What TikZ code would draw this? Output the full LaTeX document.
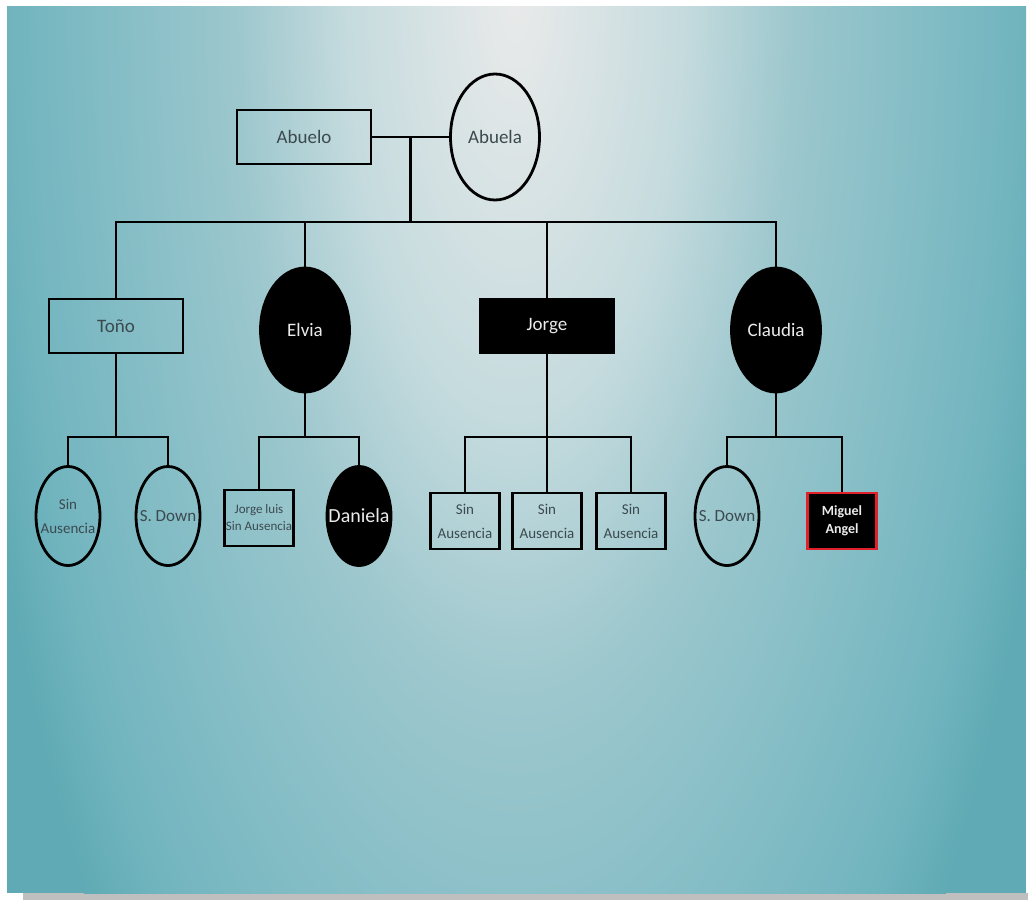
\documentclass[tikz,border=0pt]{standalone}
\usepackage{fontspec}
\setmainfont{Carlito}
\usetikzlibrary{shapes.geometric, calc}

\definecolor{fondoA}{HTML}{E9EAEA}
\definecolor{fondoB}{HTML}{C5DBDE}
\definecolor{fondoC}{HTML}{9CC7CD}
\definecolor{fondoD}{HTML}{8CC0C8}
\definecolor{fondoE}{HTML}{72B5BF}
\definecolor{fondoF}{HTML}{5FAAB4}
\definecolor{tinta}{HTML}{3B4A4F}
\definecolor{marca}{HTML}{E0202A}
\pgfdeclareradialshading{fondo}{\pgfpoint{0bp}{0bp}}{%
    color(0bp)=(fondoA); color(7.5bp)=(fondoB); color(12.5bp)=(fondoC);
    color(16.25bp)=(fondoD); color(22.25bp)=(fondoE); color(25bp)=(fondoF);
    color(50bp)=(fondoF)}

\begin{document}
\begin{tikzpicture}
    [x=.5pt, y=-.5pt, line width=1.4pt,
     varon/.style={draw, rectangle, inner sep=0pt},
     mujer/.style={draw, ellipse, inner sep=0pt},
     grande/.style={minimum width=67pt, minimum height=27pt},
     ovalo/.style={minimum width=44.5pt, minimum height=62pt},
     chico/.style={minimum width=34.5pt, minimum height=28pt},
     ovalito/.style={minimum width=32pt, minimum height=49.5pt},
     afectado/.style={fill=black},
     nombre/.style={text=tinta, align=center, font=\fontsize{9.5}{11}\selectfont},
     claro/.style={text=white!92!black, align=center, font=\fontsize{9.5}{11}\selectfont},
     nota/.style={text=tinta, align=center, font=\fontsize{7.5}{12}\selectfont},
    ]
    % Fondo
    \useasboundingbox (0,0) rectangle (1028,900);
    \fill[white] (0,0) rectangle (1028,900);
    \fill[black!25] (23,893) rectangle (1028,900);
    \begin{scope}
        \clip (7,6) rectangle (1026,893);
        \fill[fondoF] (7,6) rectangle (1026,893);
        \shade[shading=fondo] (515,0) ellipse (560 and 1400);
    \end{scope}

    % Abuelos
    \node[varon, grande, label={[nombre]center:Abuelo}] (abuelo) at (304,137) {};
    \node[mujer, ovalo, minimum height=63pt, label={[nombre]center:Abuela}] (abuela) at (495,137) {};

    % Hijos
    \node[varon, grande, label={[nombre]center:Toño}] (tono) at (116,326) {};
    \node[mujer, ovalo, afectado, label={[claro]center:Elvia}] (elvia) at (305,330) {};
    \node[varon, grande, afectado, label={[claro]center:Jorge}] (jorge) at (547,326) {};
    \node[mujer, ovalo, afectado, label={[claro]center:Claudia}] (claudia) at (776,330) {};

    % Nietos
    \node[mujer, ovalito, label={[nota]center:Sin\\Ausencia}] (tonoA) at (68,516) {};
    \node[mujer, ovalito, label={[nombre, font=\fontsize{8.5}{11}\selectfont]center:S. Down}] (tonoB) at (168,516) {};
    \node[varon, chico, label={[nota, font=\fontsize{6.5}{8.5}\selectfont]center:Jorge luis\\Sin Ausencia}] (elviaA) at (259,518) {};
    \node[mujer, ovalito, afectado, label={[claro, font=\fontsize{10}{12}\selectfont]center:Daniela}] (elviaB) at (359,516) {};
    \foreach \n / \px in {A/465, B/547, C/631}
        \node[varon, chico, label={[nota]center:Sin\\Ausencia}] (jorge\n) at (\px,521) {};
    \node[mujer, ovalito, label={[nombre, font=\fontsize{8.5}{11}\selectfont]center:S. Down}] (claudiaA) at (727,516) {};
    \node[varon, chico, afectado, draw=marca, label={[claro, font=\bfseries\fontsize{7}{9}\selectfont]center:Miguel\\Angel}] (claudiaB) at (842,521) {};

    % Lineas
    \draw (abuelo) -- (abuela);
    \coordinate (pareja) at ($ (abuelo.east)!.5!(abuela.west) $);
    \coordinate (hermanos) at (pareja |- 0,222);
    \draw (pareja) -- (hermanos);
    \draw (tono.north) |- (hermanos) -| (claudia.north);
    \draw (elvia.north) -- (elvia.north |- hermanos);
    \draw (jorge.north) -- (jorge.north |- hermanos);

    \foreach \p in {tono, elvia, claudia} {
        \coordinate (\p-bar) at (\p.south |- 0,437);
        \draw (\p.south) -- (\p-bar);
        \draw (\p A.north) |- (\p-bar) -| (\p B.north);
    }
    \coordinate (jorge-bar) at (jorge.south |- 0,437);
    \draw (jorge.south) -- (jorgeB.north);
    \draw (jorgeA.north) |- (jorge-bar) -| (jorgeC.north);
\end{tikzpicture}
\end{document}
